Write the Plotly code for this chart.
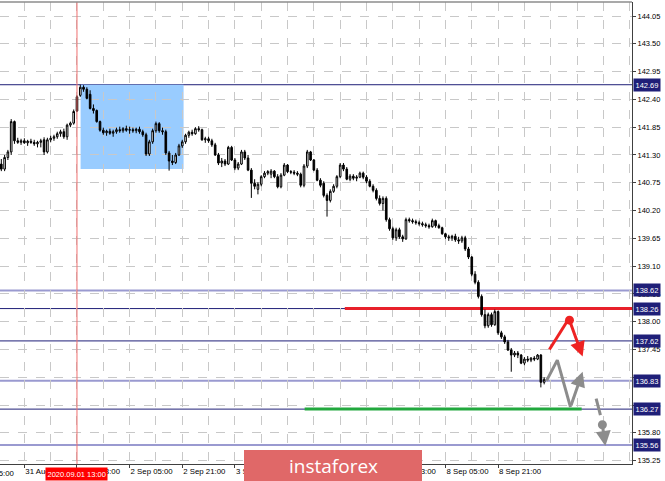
import plotly.graph_objects as go

# ---------------- data ----------------
bars = list(range(-23, 143))  # hourly bar index, 0 = 2020.09.01 13:00

opens = [141.12, 141.02, 141.25, 141.36, 141.96, 141.58, 141.55, 141.58, 141.54, 141.57,
         141.55, 141.52, 141.55, 141.60, 141.36, 141.60, 141.63, 141.66, 141.72, 141.76,
         141.66, 141.89, 141.93, 142.45, 142.48, 142.64, 142.60, 142.50, 142.22, 142.18,
         141.96, 141.79, 141.74, 141.77, 141.73, 141.76, 141.80, 141.78, 141.82, 141.79,
         141.80, 141.78, 141.81, 141.76, 141.70, 141.32, 141.56, 141.78, 141.92, 141.78,
         141.76, 141.34, 141.18, 141.15, 141.30, 141.48, 141.56, 141.69, 141.75, 141.72,
         141.82, 141.80, 141.60, 141.62, 141.58, 141.50, 141.30, 141.14, 141.18, 141.12,
         141.45, 141.20, 141.04, 141.12, 141.36, 141.24, 141.00, 140.74, 140.62, 140.72,
         140.87, 140.94, 140.92, 140.98, 140.87, 140.67, 140.90, 141.10, 140.97, 140.96,
         140.94, 140.92, 140.70, 141.08, 141.36, 141.20, 141.00, 140.80, 140.74, 140.50,
         140.40, 140.58, 140.68, 140.87, 141.10, 141.02, 140.82, 140.88, 140.84, 140.86,
         140.94, 140.86, 140.78, 140.68, 140.60, 140.44, 140.34, 140.44, 140.02, 139.84,
         139.66, 139.82, 139.68, 139.64, 140.02, 140.00, 139.98, 139.96, 139.94, 139.92,
         139.90, 139.88, 140.00, 139.90, 139.86, 139.74, 139.68, 139.66, 139.69, 139.62,
         139.60, 139.66, 139.44, 139.28, 138.94, 138.78, 138.50, 138.14, 137.92, 138.14,
         137.94, 138.20, 137.78, 137.70, 137.60, 137.44, 137.34, 137.38, 137.34, 137.18,
         137.26, 137.24, 137.28, 137.26, 137.34, 136.80]
highs = [141.22, 141.30, 141.40, 142.01, 141.98, 141.64, 141.62, 141.63, 141.60, 141.62,
         141.60, 141.58, 141.62, 141.65, 141.64, 141.68, 141.70, 141.76, 141.80, 141.82,
         141.92, 141.96, 142.20, 142.48, 142.69, 142.68, 142.64, 142.58, 142.30, 142.20,
         141.98, 141.84, 141.80, 141.82, 141.80, 141.84, 141.86, 141.85, 141.88, 141.86,
         141.84, 141.84, 141.86, 141.80, 141.74, 141.60, 141.82, 141.96, 141.95, 141.84,
         141.80, 141.38, 141.30, 141.34, 141.52, 141.60, 141.72, 141.78, 141.80, 141.85,
         141.87, 141.82, 141.66, 141.66, 141.62, 141.54, 141.34, 141.24, 141.22, 141.48,
         141.48, 141.24, 141.16, 141.40, 141.40, 141.30, 141.04, 140.82, 140.76, 140.90,
         140.98, 141.00, 141.02, 141.00, 140.92, 140.94, 141.14, 141.12, 141.00, 141.00,
         140.98, 140.95, 141.12, 141.40, 141.38, 141.22, 141.04, 140.84, 140.78, 140.54,
         140.62, 140.72, 140.90, 141.14, 141.14, 141.06, 140.92, 140.92, 140.90, 140.97,
         140.97, 140.90, 140.82, 140.72, 140.64, 140.50, 140.48, 140.48, 140.06, 139.88,
         139.86, 139.86, 139.72, 140.06, 140.06, 140.04, 140.02, 140.00, 139.98, 139.96,
         139.94, 140.04, 140.02, 139.94, 139.88, 139.76, 139.72, 139.72, 139.74, 139.68,
         139.70, 139.70, 139.48, 139.30, 139.00, 138.82, 138.54, 138.24, 138.18, 138.18,
         138.24, 138.22, 137.82, 137.74, 137.64, 137.48, 137.42, 137.42, 137.36, 137.30,
         137.32, 137.30, 137.32, 137.36, 137.36, 136.90]
lows = [140.98, 140.98, 141.20, 141.30, 141.52, 141.52, 141.50, 141.52, 141.48, 141.52,
        141.48, 141.45, 141.45, 141.30, 141.33, 141.55, 141.58, 141.62, 141.66, 141.62,
        141.60, 141.85, 141.90, 142.15, 142.45, 142.55, 142.40, 142.20, 142.12, 141.94,
        141.76, 141.70, 141.68, 141.70, 141.66, 141.72, 141.74, 141.74, 141.76, 141.72,
        141.74, 141.73, 141.72, 141.66, 141.28, 141.28, 141.52, 141.74, 141.74, 141.70,
        141.30, 140.99, 141.10, 141.12, 141.28, 141.44, 141.52, 141.64, 141.68, 141.70,
        141.76, 141.58, 141.54, 141.54, 141.46, 141.28, 141.10, 141.06, 141.08, 141.10,
        141.18, 141.00, 141.00, 141.10, 141.20, 140.98, 140.45, 140.62, 140.52, 140.68,
        140.84, 140.90, 140.84, 140.84, 140.64, 140.64, 140.88, 140.94, 140.92, 140.90,
        140.88, 140.66, 140.66, 141.04, 141.18, 140.98, 140.78, 140.66, 140.46, 140.08,
        140.36, 140.55, 140.64, 140.84, 140.98, 140.80, 140.78, 140.80, 140.78, 140.84,
        140.82, 140.74, 140.66, 140.56, 140.40, 140.30, 140.20, 139.98, 139.80, 139.62,
        139.60, 139.64, 139.58, 139.62, 139.96, 139.94, 139.92, 139.90, 139.88, 139.86,
        139.84, 139.86, 139.86, 139.84, 139.72, 139.64, 139.60, 139.60, 139.58, 139.54,
        139.56, 139.40, 139.24, 138.90, 138.74, 138.46, 138.10, 137.87, 137.88, 137.90,
        137.92, 137.74, 137.66, 137.56, 137.42, 137.01, 137.30, 137.28, 137.16, 137.14,
        137.20, 137.20, 137.22, 137.24, 136.70, 136.76]
closes = [141.02, 141.25, 141.36, 141.96, 141.58, 141.55, 141.58, 141.54, 141.57, 141.55,
          141.52, 141.55, 141.58, 141.36, 141.60, 141.63, 141.66, 141.72, 141.76, 141.66,
          141.89, 141.93, 142.16, 142.17, 142.64, 142.60, 142.42, 142.22, 142.18, 141.96,
          141.79, 141.74, 141.77, 141.73, 141.76, 141.80, 141.78, 141.82, 141.79, 141.80,
          141.78, 141.81, 141.76, 141.70, 141.32, 141.56, 141.78, 141.92, 141.78, 141.76,
          141.34, 141.18, 141.15, 141.30, 141.48, 141.56, 141.69, 141.75, 141.72, 141.82,
          141.80, 141.60, 141.62, 141.58, 141.50, 141.30, 141.14, 141.18, 141.12, 141.45,
          141.20, 141.04, 141.12, 141.36, 141.24, 141.00, 140.74, 140.68, 140.72, 140.87,
          140.94, 140.97, 140.98, 140.87, 140.67, 140.90, 141.10, 140.97, 140.96, 140.94,
          140.92, 140.70, 141.08, 141.36, 141.20, 141.00, 140.80, 140.70, 140.50, 140.40,
          140.58, 140.68, 140.87, 141.10, 141.02, 140.82, 140.88, 140.84, 140.86, 140.94,
          140.86, 140.78, 140.68, 140.60, 140.44, 140.34, 140.44, 140.02, 139.84, 139.66,
          139.82, 139.68, 139.64, 140.02, 140.00, 139.98, 139.96, 139.94, 139.92, 139.90,
          139.88, 140.00, 139.90, 139.86, 139.74, 139.68, 139.66, 139.69, 139.62, 139.60,
          139.66, 139.44, 139.28, 138.94, 138.78, 138.50, 138.14, 137.92, 138.14, 137.94,
          138.20, 137.78, 137.70, 137.60, 137.44, 137.34, 137.38, 137.34, 137.18, 137.26,
          137.24, 137.28, 137.26, 137.34, 136.80, 136.86]

# time axis labels (bar index of each label)
time_tick_bars = [-16, 0, 16, 32, 48, 64, 80, 96, 112, 128]
time_tick_text = ["31 Aug 21:00", "1 Sep 13:00", "2 Sep 05:00", "2 Sep 21:00", "3 Sep 13:00",
                  "4 Sep 05:00", "4 Sep 21:00", "7 Sep 13:00", "8 Sep 05:00", "8 Sep 21:00"]
first_partial_label = "31 Aug 05:00"
marker_label = "2020.09.01 13:00"
marker_bar = 0

# price axis ticks
price_ticks = [135.25, 135.80, 136.35, 136.90, 137.45, 138.00, 138.55, 139.10, 139.65,
               140.20, 140.75, 141.30, 141.85, 142.40, 142.95, 143.50, 144.05]

# horizontal levels
level_prices = [142.69, 138.62, 138.26, 137.62, 136.83, 136.27, 135.56]
level_kind = ["dark", "light", "dark", "dark", "light", "dark", "light"]

# zones / targets
box_bars = [1.1, 32.4]
box_prices = [141.02, 142.69]
resistance_price = 138.26
resistance_bars = [81.4, 175]
support_price = 136.27
support_bars = [69.2, 153.4]

# forecast sketches
red_path_bars = [143.6, 149.1]
red_path_prices = [137.45, 138.02]
red_dot = (149.7, 138.03)
red_tip = (153.7, 137.31)
gray_path_bars = [142.7, 146.0, 150.0]
gray_path_prices = [136.83, 137.24, 136.31]
gray_tip = (153.7, 137.01)
gray_dash_bars = [157.8, 159.1]
gray_dash_prices = [136.48, 136.15]
gray_dot = (159.7, 135.96)
gray_dot_tip = (160.6, 135.54)

x_range = [-23.4, 168.7]
y_range = [135.184, 144.327]

# ---------------- figure ----------------
NAVY = "#1f1f78"
LIGHT = "#9a9ad0"
FONT = "Liberation Sans"
FSX = 7.8
FSY = 7.5

fig = go.Figure()
fig.add_trace(go.Candlestick(
    x=bars, open=opens, high=highs, low=lows, close=closes,
    increasing=dict(line=dict(color="black", width=1), fillcolor="white"),
    decreasing=dict(line=dict(color="black", width=1), fillcolor="black"),
    whiskerwidth=0, hoverinfo="skip", showlegend=False))

shapes = []
shapes.append(dict(type="rect", xref="x", yref="y", x0=box_bars[0], x1=box_bars[1],
                   y0=box_prices[0], y1=box_prices[1], fillcolor="#99ccff",
                   line=dict(width=0), layer="below"))
for p, k in zip(level_prices, level_kind):
    shapes.append(dict(type="line", xref="paper", yref="y", x0=0, x1=1, y0=p, y1=p,
                       line=dict(color=NAVY if k == "dark" else LIGHT,
                                 width=1 if k == "dark" else 2),
                       layer="between"))
shapes.append(dict(type="line", xref="x", yref="y", x0=resistance_bars[0], x1=resistance_bars[1],
                   y0=resistance_price, y1=resistance_price,
                   line=dict(color="#e8202a", width=3), layer="between"))
shapes.append(dict(type="line", xref="x", yref="y", x0=support_bars[0], x1=support_bars[1],
                   y0=support_price, y1=support_price,
                   line=dict(color="#22a83e", width=3), layer="between"))
shapes.append(dict(type="line", xref="x", yref="paper", x0=marker_bar, x1=marker_bar, y0=0, y1=1,
                   line=dict(color="#f07070", width=1), layer="above"))
shapes.append(dict(type="line", xref="paper", yref="paper", x0=0, x1=1, y0=1, y1=1,
                   line=dict(color="#8c8c8c", width=1.5), layer="above"))
for (bx, py), col in [(red_dot, "#ee2222"), (gray_dot, "#8c8c8c")]:
    shapes.append(dict(type="circle", xref="x", yref="y", xsizemode="pixel", ysizemode="pixel",
                       xanchor=bx, yanchor=py, x0=-4.5, x1=4.5, y0=-4.5, y1=4.5,
                       fillcolor=col, line=dict(width=0), layer="above"))
shapes.append(dict(type="rect", xref="paper", yref="paper", x0=244 / 632, x1=422 / 632,
                   y0=-0.06, y1=(464 - 450) / 462, fillcolor="#e06868",
                   line=dict(width=0), layer="above"))

fig.add_trace(go.Scatter(x=red_path_bars, y=red_path_prices, mode="lines",
                         line=dict(color="#ee2222", width=3), hoverinfo="skip", showlegend=False))
fig.add_trace(go.Scatter(x=gray_path_bars, y=gray_path_prices, mode="lines",
                         line=dict(color="#8c8c8c", width=3), hoverinfo="skip", showlegend=False))
fig.add_trace(go.Scatter(x=gray_dash_bars, y=gray_dash_prices, mode="lines",
                         line=dict(color="#8c8c8c", width=3), hoverinfo="skip", showlegend=False))

annotations = []
for start, tip, col in [(red_dot, red_tip, "#ee2222"),
                        ((gray_path_bars[-1], gray_path_prices[-1]), gray_tip, "#8c8c8c"),
                        (gray_dot, gray_dot_tip, "#8c8c8c")]:
    annotations.append(dict(x=tip[0], y=tip[1], ax=start[0], ay=start[1], xref="x", yref="y",
                            axref="x", ayref="y", text="", showarrow=True, arrowhead=2,
                            arrowsize=1, arrowwidth=3, arrowcolor=col, standoff=0))
for p in level_prices:
    annotations.append(dict(x=1, y=p, xref="paper", yref="y", xanchor="left", yanchor="middle",
                            xshift=1, text=f"{p:.2f}", showarrow=False, bgcolor=NAVY,
                            borderpad=1.5, font=dict(family=FONT, size=FSY, color="white")))
annotations.append(dict(x=0, y=0, xref="paper", yref="paper", xanchor="right", yanchor="top",
                        xshift=17, yshift=-3, text=first_partial_label, showarrow=False,
                        font=dict(family=FONT, size=FSX, color="black")))
annotations.append(dict(x=marker_bar, y=0, xref="x", yref="paper", xanchor="center", yanchor="top",
                        yshift=-3, text=marker_label, showarrow=False, bgcolor="#ff0000",
                        borderpad=1.5, font=dict(family=FONT, size=FSY, color="white")))
annotations.append(dict(x=333 / 632, y=(464 - 466) / 462, xref="paper", yref="paper",
                        xanchor="center", yanchor="middle", text="instaforex", showarrow=False,
                        font=dict(family="Open Sans", size=19, color="white")))

fig.update_layout(
    width=665, height=481,
    margin=dict(l=0, r=33, t=2, b=17),
    paper_bgcolor="white", plot_bgcolor="white",
    showlegend=False, hovermode=False,
    boxgap=0.3,
    shapes=shapes, annotations=annotations,
    font=dict(family=FONT, size=FSX, color="black"),
    xaxis=dict(range=x_range, rangeslider=dict(visible=False), automargin=False,
               tickmode="array", tickvals=time_tick_bars, ticktext=time_tick_text,
               tickangle=0,
               ticklabelposition="outside right", ticks="outside", ticklen=3,
               tickcolor="#404040", showline=True, linecolor="#404040", linewidth=1,
               showgrid=True, gridcolor="#c8c8c8", griddash="dash", gridwidth=1,
               minor=dict(tick0=0, dtick=8, showgrid=True, gridcolor="#c8c8c8",
                          griddash="dash", gridwidth=1),
               zeroline=False, tickfont=dict(family=FONT, size=FSX, color="black")),
    yaxis=dict(range=y_range, side="right", tickmode="array", tickvals=price_ticks, automargin=False,
               ticktext=[f"{v:.2f}" for v in price_ticks], ticks="outside", ticklen=3,
               tickcolor="#404040", showline=True, linecolor="#404040", linewidth=1,
               showgrid=True, gridcolor="#c8c8c8", griddash="dash", gridwidth=1,
               zeroline=False, tickfont=dict(family=FONT, size=FSY, color="black")),
)

fig.write_html("out.html", config={"displayModeBar": False},
               post_script="document.body.style.margin='0';document.body.style.overflow='hidden';")
